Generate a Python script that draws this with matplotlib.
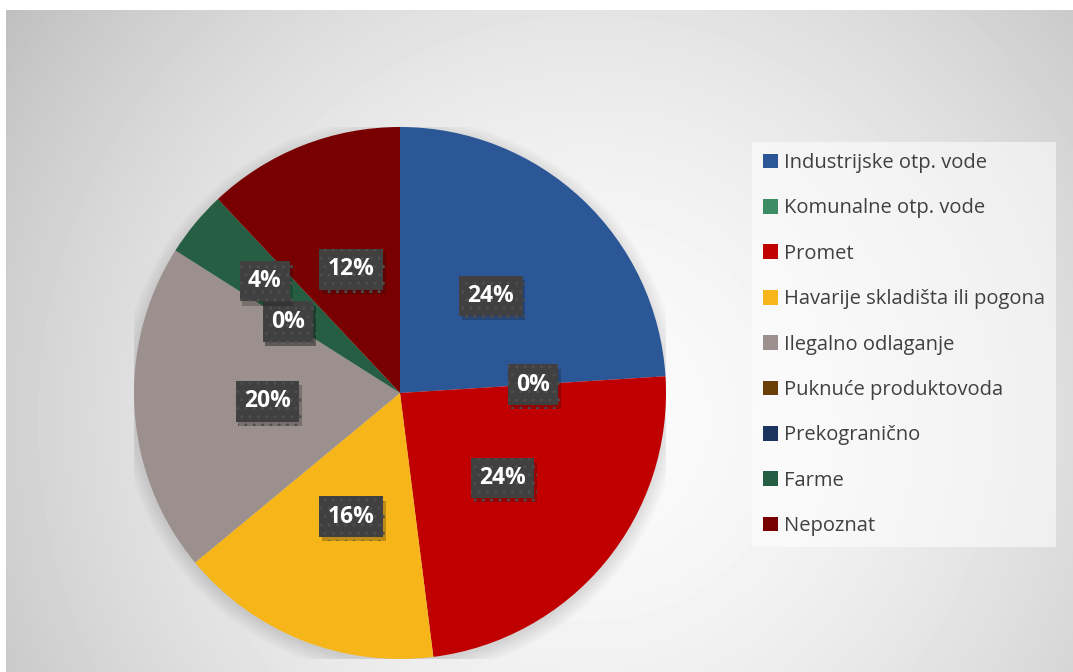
import numpy as np
import matplotlib.pyplot as plt
from matplotlib import patheffects as pe

plt.rcParams['font.family'] = ['Open Sans', 'DejaVu Sans']

# data
categories = ['Industrijske otp. vode', 'Komunalne otp. vode', 'Promet',
              'Havarije skladišta ili pogona', 'Ilegalno odlaganje',
              'Puknuće produktovoda', 'Prekogranično', 'Farme', 'Nepoznat']
shares = [24, 0, 24, 16, 20, 0, 0, 4, 12]
colors = ['#2b5797', '#3c8c64', '#c00000', '#f6b519', '#9b908d',
          '#6b4008', '#1c355e', '#255e42', '#780000']

W, H = 1073, 672
fig = plt.figure(figsize=(W / 100, H / 100), dpi=100)
fig.patch.set_facecolor('white')

# background with radial gradient
bg = fig.add_axes([6 / W, 0, 1 - 6 / W, 662 / H])
yy, xx = np.mgrid[10:672, 6:1073]
r = np.hypot(xx - 590, yy - 420)
v = 251 - 58 * (r / 700) ** 1.7
bg.imshow(np.clip(v, 0, 255) / 255, cmap='gray', vmin=0, vmax=1,
          aspect='auto', interpolation='bilinear')
bg.axis('off')

# pie
cx, cy, rad = 400, 393, 266
ax = fig.add_axes([(cx - rad) / W, (H - cy - rad) / H, 2 * rad / W, 2 * rad / H])

# soft shadow
for k in range(6):
    sh = plt.Circle((0.0, -0.015), 1.0 + 0.01 * k, color='black',
                    alpha=0.02, lw=0, zorder=0)
    ax.add_patch(sh)

wedges, _ = ax.pie(shares, colors=colors, startangle=90, counterclock=False,
                   radius=1, wedgeprops=dict(linewidth=0))
for w in wedges:
    w.set_zorder(2)
ax.set_xlim(-1, 1)
ax.set_ylim(-1, 1)
ax.axis('off')

# data labels
total = sum(shares)
cum = 0
for i, s in enumerate(shares):
    mid = 90 - (cum + s / 2) / total * 360
    cum += s
    dist = 0.5
    if categories[i] == 'Farme':
        dist = 0.66
    x = dist * np.cos(np.radians(mid))
    y = dist * np.sin(np.radians(mid))
    t = ax.text(x, y, f'{s}%', ha='center', va='center', color='white',
                fontsize=16.5, fontweight='bold', zorder=5,
                bbox=dict(boxstyle='square,pad=0.36', fc='#404040',
                          ec='#4e4e4e', lw=0, hatch='..'))
    t.get_bbox_patch().set_path_effects(
        [pe.SimplePatchShadow(offset=(2, -3), alpha=0.25), pe.Normal()])

leg = fig.legend(wedges, categories, loc='upper left',
                 bbox_to_anchor=(752 / W, 1 - 142 / H), borderaxespad=0,
                 frameon=True, fancybox=False, fontsize=14.5,
                 labelcolor='#404040', labelspacing=1.26,
                 handlelength=0.75, handleheight=0.75, handletextpad=0.3,
                 borderpad=0.55)
frame = leg.get_frame()
frame.set_facecolor('white')
frame.set_alpha(0.55)
frame.set_edgecolor('none')

fig.savefig('out.png', dpi=100)
